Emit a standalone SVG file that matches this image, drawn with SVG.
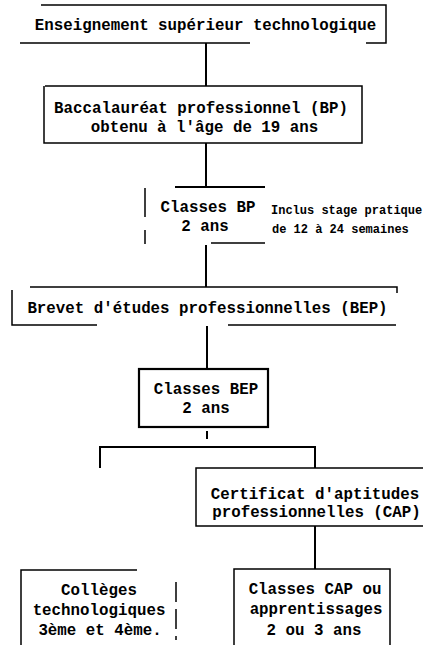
<svg xmlns="http://www.w3.org/2000/svg" width="423" height="645" viewBox="0 0 423 645">
<style>
.t{font-family:"Liberation Mono","DejaVu Sans Mono",monospace;font-size:15.8px;font-weight:bold;fill:#000;text-anchor:middle}
.s{font-family:"Liberation Mono","DejaVu Sans Mono",monospace;font-size:12px;font-weight:bold;fill:#000}
.b{fill:none;stroke:#000;stroke-width:1.5}
.bt{fill:none;stroke:#000;stroke-width:2.2}
.c{fill:none;stroke:#000;stroke-width:2}
</style>
<rect width="423" height="645" fill="#fff"/>
<g id="connectors">
<path class="c" d="M206 43V86"/>
<path class="c" d="M206 143V187M175 187H265"/>
<path class="c" d="M206 245V287"/>
<path class="c" d="M207 326V368"/>
<path class="c" d="M207 431V439"/>
<path class="c" d="M100 468V447H315V468"/>
<path class="c" d="M315 526V569"/>
</g>
<g id="node-enseignement">
<path class="b" d="M41 5H386V43H366M250 43H20"/>
<text class="t" x="205.5" y="30">Enseignement supérieur technologique</text>
</g>
<g id="node-bac">
<path class="b" d="M45 86H362V143H44V86"/>
<text class="t" x="201" y="113">Baccalauréat professionnel (BP)</text>
<text class="t" x="204.5" y="132">obtenu à l'âge de 19 ans</text>
</g>
<g id="node-classes-bp">
<path class="b" d="M145 188V217M145 230V244M211 243H265"/>
<text class="t" x="208" y="212">Classes BP</text>
<text class="t" x="205" y="231">2 ans</text>
<text class="s" x="271" y="214">Inclus stage pratique</text>
<text class="s" x="272" y="233">de 12 à 24 semaines</text>
</g>
<g id="node-bep">
<path class="b" d="M30 287H397V293M12 290V325H97M228 325H396"/>
<text class="t" x="207.5" y="313">Brevet d'études professionnelles (BEP)</text>
</g>
<g id="node-classes-bep">
<rect class="bt" x="139" y="369" width="129" height="58"/>
<text class="t" x="206" y="394">Classes BEP</text>
<text class="t" x="206" y="413">2 ans</text>
</g>
<g id="node-cap">
<path class="b" d="M423 468H196V526H423"/>
<text class="t" x="315" y="499">Certificat d'aptitudes</text>
<text class="t" x="316.5" y="517">professionnelles (CAP)</text>
</g>
<g id="node-colleges">
<path class="b" d="M21 645V570H137"/>
<path class="b" d="M176 582V640" stroke-dasharray="20 7"/>
<text class="t" x="99" y="595">Collèges</text>
<text class="t" x="99" y="615">technologiques</text>
<text class="t" x="100" y="635">3ème et 4ème.</text>
</g>
<g id="node-classes-cap">
<path class="b" d="M234 645V569H390V645"/>
<text class="t" x="315" y="593.5">Classes CAP ou</text>
<text class="t" x="316" y="614">apprentissages</text>
<text class="t" x="314" y="635">2 ou 3 ans</text>
</g>
</svg>
